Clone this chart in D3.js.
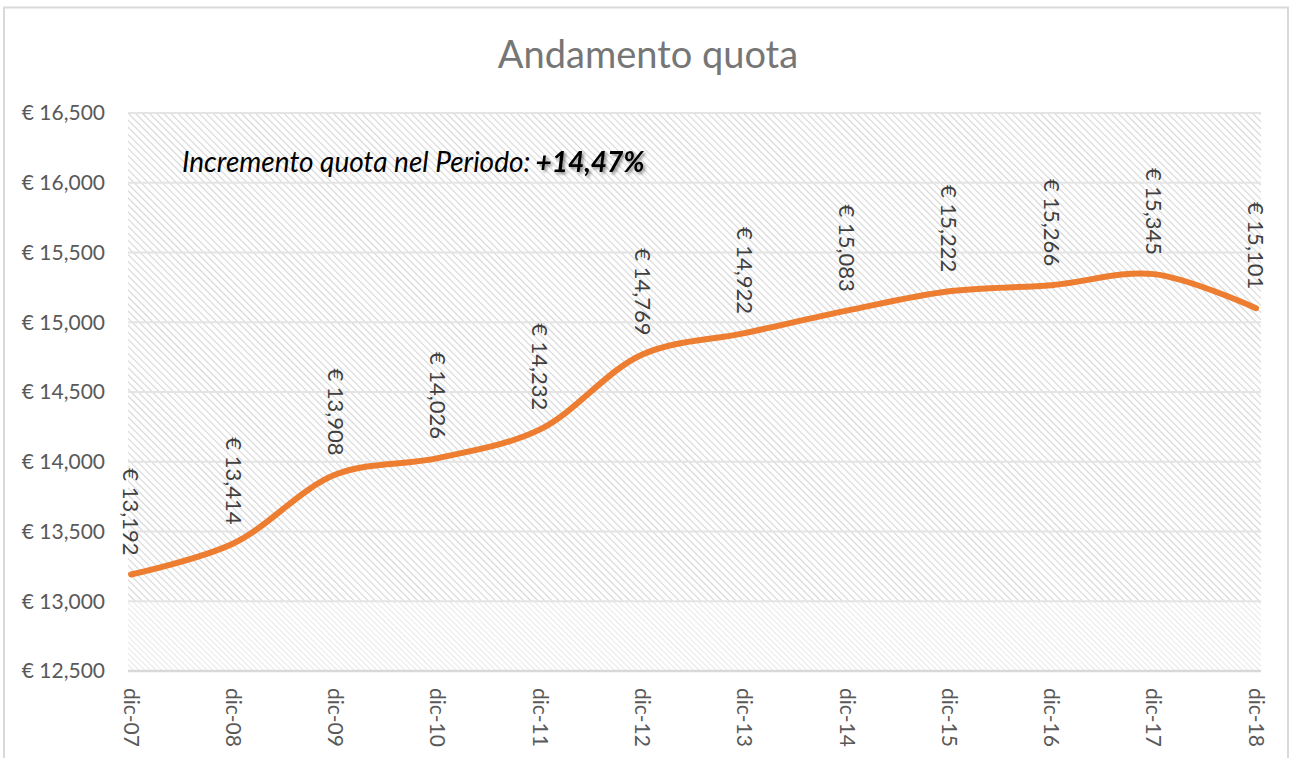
<!DOCTYPE html>
<html lang="it">
  <head>
    <meta charset="utf-8"/>
    <script src="https://d3js.org/d3.v7.min.js"></script>
    <title>Andamento quota</title>
    <style>
      body { margin: 0; background: #fff; }
      text { font-family: Lato, "Open Sans", sans-serif; }
    </style>
  </head>
  <body>
    <svg id="chart"></svg>
    <script>
      // dati
      const categories = ["dic-07", "dic-08", "dic-09", "dic-10", "dic-11", "dic-12",
                          "dic-13", "dic-14", "dic-15", "dic-16", "dic-17", "dic-18"];
      const quota = [13192, 13414, 13908, 14026, 14232, 14769,
                     14922, 15083, 15222, 15266, 15345, 15101];
      const yTicks = [12500, 13000, 13500, 14000, 14500, 15000, 15500, 16000, 16500];
      const title = "Andamento quota";
      const noteText = "Incremento quota nel Periodo: ";
      const noteValue = "+14,47%";

      const width = 1291;
      const height = 758;
      const plot = { left: 128, right: 1261, top: 113, bottom: 671 };

      const svg = d3.select("#chart")
        .attr("width", width)
        .attr("height", height);

      const defs = svg.append("defs");

      // tratteggio diagonale dello sfondo
      function hatch(id, size, color, w) {
        const p = defs.append("pattern")
          .attr("id", id)
          .attr("patternUnits", "userSpaceOnUse")
          .attr("width", size)
          .attr("height", size)
          .attr("patternTransform", "rotate(-45)");
        p.append("rect").attr("width", size).attr("height", size).attr("fill", "#fff");
        p.append("line")
          .attr("x1", 0).attr("y1", 0).attr("x2", 0).attr("y2", size)
          .attr("stroke", color)
          .attr("stroke-width", w);
      }
      hatch("hatchA", 5, "#d6d6d6", 2.2);
      hatch("hatchB", 4, "#dedede", 1.4);

      defs.append("filter").attr("id", "shadow")
        .attr("x", "-10%").attr("y", "-30%").attr("width", "130%").attr("height", "180%")
        .append("feDropShadow")
          .attr("dx", 2).attr("dy", 2).attr("stdDeviation", 1.5)
          .attr("flood-color", "#000").attr("flood-opacity", 0.45);

      // cornice del grafico
      svg.append("rect")
        .attr("x", 4).attr("y", 7.5)
        .attr("width", 1284).attr("height", 760)
        .attr("fill", "#fff")
        .attr("stroke", "#d9d9d9")
        .attr("stroke-width", 2);

      const x = d3.scalePoint()
        .domain(categories)
        .range([131, 1256]);

      const y = d3.scaleLinear()
        .domain([12500, 16500])
        .range([plot.bottom, plot.top]);

      // sfondo area del tracciato
      svg.append("rect")
        .attr("x", plot.left).attr("y", y(16500))
        .attr("width", plot.right - plot.left)
        .attr("height", y(13000) - y(16500))
        .attr("fill", "url(#hatchA)");
      svg.append("rect")
        .attr("x", plot.left).attr("y", y(13000))
        .attr("width", plot.right - plot.left)
        .attr("height", y(12500) - y(13000))
        .attr("fill", "url(#hatchB)");

      // griglia
      svg.append("g")
        .selectAll("line")
        .data(yTicks.filter(d => d > 12500))
        .join("line")
          .attr("x1", plot.left).attr("x2", plot.right)
          .attr("y1", d => y(d)).attr("y2", d => y(d))
          .attr("stroke", "#e4e4e4")
          .attr("stroke-width", 2);

      // asse x
      svg.append("line")
        .attr("x1", plot.left).attr("x2", plot.right)
        .attr("y1", y(12500)).attr("y2", y(12500))
        .attr("stroke", "#d9d9d9")
        .attr("stroke-width", 2.5);

      const fmt = d3.format(",");

      // etichette asse y
      svg.append("g")
        .selectAll("text")
        .data(yTicks)
        .join("text")
          .attr("x", 105)
          .attr("y", d => y(d))
          .attr("dy", "0.35em")
          .attr("text-anchor", "end")
          .attr("fill", "#595959")
          .style("font-size", "21px")
          .text(d => "€ " + fmt(d));

      // etichette asse x
      svg.append("g")
        .selectAll("text")
        .data(categories)
        .join("text")
          .attr("transform", d => "translate(" + x(d) + ",688) rotate(90)")
          .attr("dy", "0.35em")
          .attr("fill", "#595959")
          .style("font-size", "21px")
          .text(d => d);

      // linea
      const line = d3.line()
        .x((d, i) => x(categories[i]))
        .y(d => y(d))
        .curve(d3.curveCatmullRom.alpha(0.5));

      svg.append("path")
        .datum(quota)
        .attr("d", line)
        .attr("fill", "none")
        .attr("stroke", "#ed7d31")
        .attr("stroke-width", 6)
        .attr("stroke-linecap", "round")
        .attr("stroke-linejoin", "round");

      // etichette dati
      svg.append("g")
        .selectAll("text")
        .data(quota)
        .join("text")
          .attr("transform", (d, i) => "translate(" + x(categories[i]) + "," + (y(d) - 19) + ") rotate(90)")
          .attr("dy", "0.35em")
          .attr("text-anchor", "end")
          .attr("fill", "#404040")
          .style("font-size", "22px")
          .text(d => "€ " + fmt(d));

      // titolo
      svg.append("text")
        .attr("x", 648).attr("y", 68)
        .attr("text-anchor", "middle")
        .attr("fill", "#767676")
        .style("font-size", "38px")
        .text(title);

      // nota
      const note = svg.append("text")
        .attr("x", 182).attr("y", 172)
        .style("font-size", "28px")
        .style("font-style", "italic")
        .attr("fill", "#000");
      note.append("tspan").text(noteText);
      svg.append("text")
        .attr("y", 172)
        .style("font-size", "28px")
        .style("font-style", "italic")
        .style("font-weight", "bold")
        .attr("fill", "#000")
        .attr("filter", "url(#shadow)")
        .attr("x", 182 + note.node().getComputedTextLength() + 5)
        .text(noteValue);
    </script>
  </body>
</html>
